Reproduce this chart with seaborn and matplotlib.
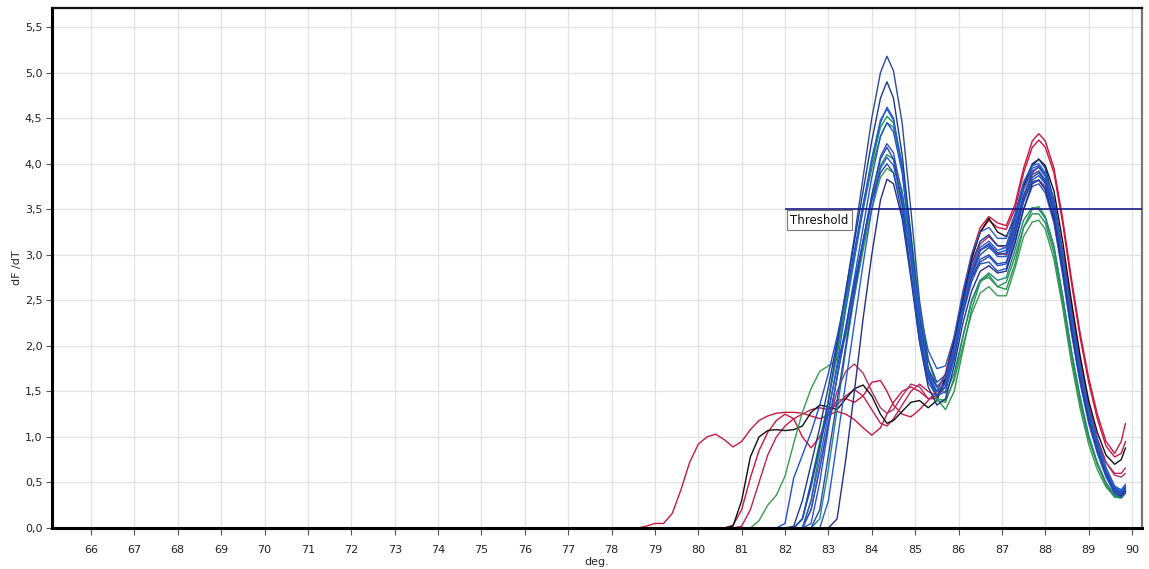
import matplotlib
matplotlib.use("Agg")
import matplotlib.pyplot as plt
import seaborn as sns
import pandas as pd
from matplotlib.ticker import FuncFormatter

# ---------------- data ----------------
EARLY_DEG = [78.6, 78.8, 79.0, 79.2, 79.4, 79.6, 79.8, 80.0, 80.2, 80.4, 80.6, 80.8, 81.0, 81.2, 81.4, 81.6]
LATE_DEG = [81.8, 82.0, 82.2, 82.4, 82.6, 82.8, 83.0, 83.2, 83.4, 83.6, 83.8, 84.0, 84.2, 84.35, 84.5,
            84.7, 84.9, 85.1, 85.3, 85.5, 85.7, 85.9, 86.1, 86.3, 86.5, 86.7, 86.9, 87.1, 87.3, 87.5,
            87.7, 87.85, 88.0, 88.2, 88.4, 88.6, 88.8, 89.0, 89.2, 89.4, 89.6, 89.75, 89.85]

# early-onset curves (values on EARLY_DEG then LATE_DEG)
r1_early = [0, 0.02, 0.05, 0.05, 0.16, 0.42, 0.72, 0.92, 1.0, 1.03, 0.97, 0.89, 0.95, 1.08, 1.18, 1.23]
r1_late = [1.26, 1.27, 1.27, 1.26, 1.23, 1.2, 1.24, 1.28, 1.25, 1.19, 1.1, 1.02, 1.1, 1.25, 1.38,
           1.5, 1.55, 1.5, 1.42, 1.45, 1.65, 2.05, 2.55, 3.0, 3.3, 3.42, 3.35, 3.32, 3.55, 3.95,
           4.25, 4.33, 4.25, 3.95, 3.4, 2.75, 2.15, 1.65, 1.25, 0.95, 0.82, 0.95, 1.15]
r2_early = [0, 0, 0, 0, 0, 0, 0, 0, 0, 0, 0, 0.03, 0.2, 0.55, 0.85, 1.05]
r2_late = [1.18, 1.25, 1.2, 1.0, 0.88, 1.0, 1.25, 1.4, 1.42, 1.38, 1.45, 1.6, 1.62, 1.5, 1.35,
           1.25, 1.22, 1.3, 1.4, 1.5, 1.7, 2.1, 2.55, 2.95, 3.25, 3.38, 3.3, 3.28, 3.5, 3.9,
           4.18, 4.26, 4.18, 3.9, 3.35, 2.7, 2.1, 1.6, 1.2, 0.9, 0.78, 0.82, 0.95]
r3_early = [0, 0, 0, 0, 0, 0, 0, 0, 0, 0, 0, 0, 0.02, 0.2, 0.5, 0.8]
r3_late = [1.0, 1.12, 1.2, 1.25, 1.3, 1.32, 1.3, 1.35, 1.45, 1.52, 1.45, 1.3, 1.15, 1.12, 1.2,
           1.35, 1.5, 1.58, 1.5, 1.45, 1.6, 1.95, 2.4, 2.8, 3.05, 3.12, 3.02, 3.0, 3.25, 3.65,
           3.9, 3.97, 3.9, 3.6, 3.05, 2.45, 1.85, 1.35, 0.98, 0.72, 0.6, 0.6, 0.66]
k_early = [0, 0, 0, 0, 0, 0, 0, 0, 0, 0, 0, 0.02, 0.3, 0.78, 1.0, 1.07]
k_late = [1.08, 1.07, 1.08, 1.12, 1.27, 1.35, 1.33, 1.3, 1.42, 1.53, 1.57, 1.45, 1.25, 1.15, 1.18,
          1.28, 1.38, 1.4, 1.32, 1.4, 1.65, 2.05, 2.5, 2.95, 3.25, 3.4, 3.25, 3.2, 3.4, 3.75,
          3.98, 4.05, 3.98, 3.7, 3.15, 2.5, 1.9, 1.4, 1.05, 0.8, 0.7, 0.75, 0.88]
g3_early = [0, 0, 0, 0, 0, 0, 0, 0, 0, 0, 0, 0, 0, 0, 0.08, 0.25]
g3_late = [0.36, 0.57, 0.93, 1.27, 1.53, 1.72, 1.78, 1.85, 2.1, 2.55, 3.05, 3.5, 3.85, 3.95, 3.9,
           3.55, 2.95, 2.25, 1.7, 1.42, 1.4, 1.62, 2.0, 2.35, 2.58, 2.65, 2.55, 2.55, 2.85, 3.2,
           3.36, 3.38, 3.28, 2.95, 2.42, 1.82, 1.32, 0.92, 0.64, 0.45, 0.34, 0.33, 0.38]

# curves that start on LATE_DEG
r4 = [0, 0, 0, 0, 0.2, 0.65, 1.15, 1.5, 1.72, 1.8, 1.7, 1.5, 1.32, 1.26, 1.3,
      1.45, 1.58, 1.55, 1.42, 1.42, 1.6, 1.98, 2.45, 2.85, 3.12, 3.2, 3.1, 3.08, 3.3, 3.62,
      3.8, 3.82, 3.75, 3.5, 3.0, 2.42, 1.85, 1.35, 0.98, 0.72, 0.58, 0.56, 0.6]
b1 = [0, 0, 0, 0.1, 0.45, 0.9, 1.4, 2.0, 2.6, 3.2, 3.85, 4.5, 5.0, 5.18, 5.02,
      4.45, 3.5, 2.5, 1.85, 1.6, 1.68, 2.0, 2.42, 2.78, 3.0, 3.08, 3.0, 3.02, 3.3, 3.65,
      3.88, 3.92, 3.82, 3.48, 2.9, 2.25, 1.7, 1.25, 0.9, 0.62, 0.42, 0.38, 0.46]
b2 = [0, 0, 0.02, 0.3, 0.7, 1.1, 1.55, 2.05, 2.6, 3.15, 3.7, 4.25, 4.72, 4.9, 4.72,
      4.1, 3.2, 2.3, 1.75, 1.55, 1.65, 2.0, 2.5, 2.9, 3.15, 3.22, 3.1, 3.1, 3.4, 3.78,
      4.0, 4.05, 3.95, 3.6, 3.0, 2.35, 1.78, 1.3, 0.95, 0.66, 0.45, 0.4, 0.44]
b3 = [0, 0.05, 0.55, 0.8, 1.05, 1.35, 1.7, 2.1, 2.55, 3.05, 3.55, 4.05, 4.45, 4.62, 4.5,
      3.95, 3.05, 2.2, 1.65, 1.45, 1.55, 1.9, 2.35, 2.7, 2.92, 2.98, 2.88, 2.9, 3.2, 3.58,
      3.82, 3.87, 3.78, 3.45, 2.88, 2.2, 1.65, 1.2, 0.85, 0.58, 0.38, 0.34, 0.4]
b4 = [0, 0, 0, 0, 0.05, 0.5, 1.1, 1.65, 2.2, 2.75, 3.3, 3.85, 4.3, 4.45, 4.35,
      3.9, 3.1, 2.25, 1.7, 1.45, 1.5, 1.85, 2.35, 2.8, 3.05, 3.1, 2.98, 2.98, 3.25, 3.6,
      3.8, 3.82, 3.72, 3.38, 2.82, 2.18, 1.62, 1.18, 0.85, 0.6, 0.42, 0.38, 0.42]
b5 = [0, 0, 0, 0, 0.2, 0.65, 1.15, 1.65, 2.15, 2.65, 3.15, 3.65, 4.08, 4.22, 4.12,
      3.65, 2.95, 2.15, 1.7, 1.55, 1.65, 2.0, 2.42, 2.75, 2.9, 2.92, 2.82, 2.85, 3.15, 3.5,
      3.75, 3.78, 3.68, 3.35, 2.78, 2.15, 1.6, 1.15, 0.82, 0.56, 0.38, 0.35, 0.4]
b6 = [0, 0, 0, 0, 0, 0, 0.3, 0.95, 1.6, 2.25, 2.9, 3.5, 3.95, 4.07, 3.98,
      3.6, 3.0, 2.4, 1.95, 1.75, 1.78, 2.1, 2.6, 3.0, 3.25, 3.3, 3.18, 3.18, 3.45, 3.8,
      3.98, 4.0, 3.9, 3.58, 3.0, 2.35, 1.78, 1.3, 0.95, 0.66, 0.46, 0.42, 0.48]
b7 = [0, 0, 0, 0, 0, 0, 0, 0.1, 0.75, 1.5, 2.3, 3.0, 3.6, 3.83, 3.78,
      3.4, 2.75, 2.05, 1.55, 1.35, 1.42, 1.78, 2.25, 2.6, 2.82, 2.88, 2.8, 2.82, 3.12, 3.5,
      3.78, 3.82, 3.72, 3.4, 2.85, 2.2, 1.65, 1.2, 0.87, 0.6, 0.4, 0.36, 0.4]
b8 = [0, 0, 0, 0.1, 0.5, 0.9, 1.3, 1.75, 2.2, 2.7, 3.15, 3.6, 3.9, 4.0, 3.9,
      3.45, 2.8, 2.1, 1.65, 1.5, 1.6, 1.95, 2.4, 2.8, 3.05, 3.12, 3.02, 3.05, 3.35, 3.72,
      3.92, 3.96, 3.86, 3.52, 2.95, 2.3, 1.72, 1.26, 0.9, 0.62, 0.43, 0.39, 0.44]
b9 = [0, 0, 0, 0, 0, 0.2, 0.8, 1.4, 2.0, 2.6, 3.15, 3.65, 4.05, 4.18, 4.05,
      3.55, 2.8, 2.05, 1.6, 1.45, 1.55, 1.9, 2.38, 2.75, 2.95, 3.0, 2.9, 2.92, 3.22, 3.6,
      3.85, 3.9, 3.8, 3.48, 2.9, 2.25, 1.68, 1.22, 0.88, 0.6, 0.4, 0.36, 0.42]
b10 = [0, 0, 0, 0, 0.3, 0.75, 1.25, 1.8, 2.4, 2.95, 3.5, 4.05, 4.48, 4.6, 4.48,
       3.95, 3.1, 2.25, 1.7, 1.5, 1.58, 1.95, 2.42, 2.82, 3.08, 3.15, 3.05, 3.08, 3.38, 3.72,
       3.95, 3.98, 3.88, 3.55, 2.98, 2.32, 1.75, 1.28, 0.92, 0.64, 0.44, 0.4, 0.46]
g1 = [0, 0, 0, 0.1, 0.5, 0.95, 1.4, 1.9, 2.45, 3.0, 3.55, 4.0, 4.4, 4.52, 4.45,
      4.0, 3.25, 2.4, 1.75, 1.42, 1.3, 1.5, 1.95, 2.4, 2.7, 2.78, 2.65, 2.62, 2.9, 3.3,
      3.5, 3.53, 3.42, 3.1, 2.55, 1.95, 1.42, 1.0, 0.7, 0.48, 0.34, 0.33, 0.38]
g2 = [0, 0, 0, 0, 0.3, 0.85, 1.4, 1.95, 2.5, 3.0, 3.5, 3.95, 4.3, 4.45, 4.4,
      3.98, 3.2, 2.35, 1.72, 1.4, 1.38, 1.65, 2.1, 2.5, 2.72, 2.75, 2.65, 2.7, 2.98, 3.3,
      3.45, 3.45, 3.35, 3.02, 2.48, 1.88, 1.38, 0.98, 0.7, 0.48, 0.35, 0.34, 0.4]
g4 = [0, 0, 0, 0, 0, 0.1, 0.65, 1.3, 1.95, 2.55, 3.1, 3.6, 3.98, 4.1, 4.05,
      3.7, 3.1, 2.4, 1.85, 1.55, 1.48, 1.7, 2.1, 2.48, 2.72, 2.8, 2.72, 2.75, 3.05, 3.38,
      3.52, 3.5, 3.4, 3.08, 2.55, 1.95, 1.45, 1.02, 0.72, 0.5, 0.36, 0.34, 0.4]

X_TICKS = list(range(66, 91))
Y_TICKS = [0.0, 0.5, 1.0, 1.5, 2.0, 2.5, 3.0, 3.5, 4.0, 4.5, 5.0, 5.5]
THRESHOLD = 3.5
THRESHOLD_START = 82.0
THRESHOLD_LABEL = "Threshold"

early_curves = {"R1": (r1_early, r1_late), "R2": (r2_early, r2_late), "R3": (r3_early, r3_late),
                "K": (k_early, k_late), "G3": (g3_early, g3_late)}
late_curves = {"R4": r4, "G1": g1, "G2": g2, "G4": g4, "B1": b1, "B2": b2, "B3": b3, "B4": b4,
               "B5": b5, "B6": b6, "B7": b7, "B8": b8, "B9": b9, "B10": b10}

colors = {
    "R1": "#c8183c", "R2": "#d01440", "R3": "#c02050", "R4": "#b0306a", "K": "#111111",
    "G1": "#1f9a4a", "G2": "#2c8f5a", "G3": "#3a9a50", "G4": "#23887a",
    "B1": "#2a4a9a", "B2": "#1c3a8c", "B3": "#1f4fd0", "B4": "#2455c8", "B5": "#3050b8",
    "B6": "#2a5ad0", "B7": "#22308a", "B8": "#1d4ac0", "B9": "#2848a8", "B10": "#2060d0",
}
order = ["R1", "R2", "R3", "R4", "K", "G3", "G1", "G2", "G4",
         "B1", "B2", "B3", "B4", "B5", "B6", "B7", "B8", "B9", "B10"]

rows = []
for name, (e, l) in early_curves.items():
    for x, y in zip(EARLY_DEG + LATE_DEG, e + l):
        rows.append((name, x, y))
for name, l in late_curves.items():
    for x, y in zip(LATE_DEG, l):
        rows.append((name, x, y))
df = pd.DataFrame(rows, columns=["sample", "deg", "dFdT"])

# ---------------- plot ----------------
sns.set_style("white")
plt.rcParams["font.family"] = ["DejaVu Sans"]

fig = plt.figure(figsize=(11.49, 5.69), dpi=100)
ax = fig.add_axes([52 / 1149, 41 / 569, 1090 / 1149, 520 / 569])

sns.lineplot(data=df, x="deg", y="dFdT", hue="sample", hue_order=order, palette=colors,
             estimator=None, sort=False, legend=False, linewidth=1.0, ax=ax)

ax.set_xlim(65.1, 90.23)
ax.set_ylim(0, 5.71)
ax.set_xticks(X_TICKS)
ax.set_yticks(Y_TICKS)
ax.yaxis.set_major_formatter(FuncFormatter(lambda v, p: f"{v:.1f}".replace(".", ",")))
ax.grid(True, color="#e2e2e2", linewidth=0.9)
ax.set_axisbelow(True)
ax.tick_params(axis="x", which="major", direction="out", length=5, width=0.8,
               color="#555555", labelsize=8, labelcolor="#222222", pad=7, bottom=True)
ax.tick_params(axis="y", which="major", direction="out", length=4, width=0.8,
               color="#555555", labelsize=8, labelcolor="#222222", pad=3, left=True)

for side in ["left", "bottom"]:
    ax.spines[side].set_color("black")
    ax.spines[side].set_linewidth(2.2)
ax.spines["top"].set_color("#111111")
ax.spines["top"].set_linewidth(1.6)
ax.spines["right"].set_color("#777777")
ax.spines["right"].set_linewidth(1.6)

ax.hlines(THRESHOLD, THRESHOLD_START, ax.get_xlim()[1], color="#1a1a8a", linewidth=1.2, zorder=5)
ax.text(THRESHOLD_START + 0.12, THRESHOLD - 0.05, THRESHOLD_LABEL, ha="left", va="top",
        fontsize=8.5, color="#111111", zorder=6,
        bbox=dict(boxstyle="square,pad=0.3", facecolor="white", edgecolor="#777777", linewidth=0.8))

ax.set_xlabel("deg.", fontsize=8, labelpad=2)
ax.set_ylabel("dF /dT", fontsize=8, labelpad=2)

fig.savefig("out.png", dpi=100)
